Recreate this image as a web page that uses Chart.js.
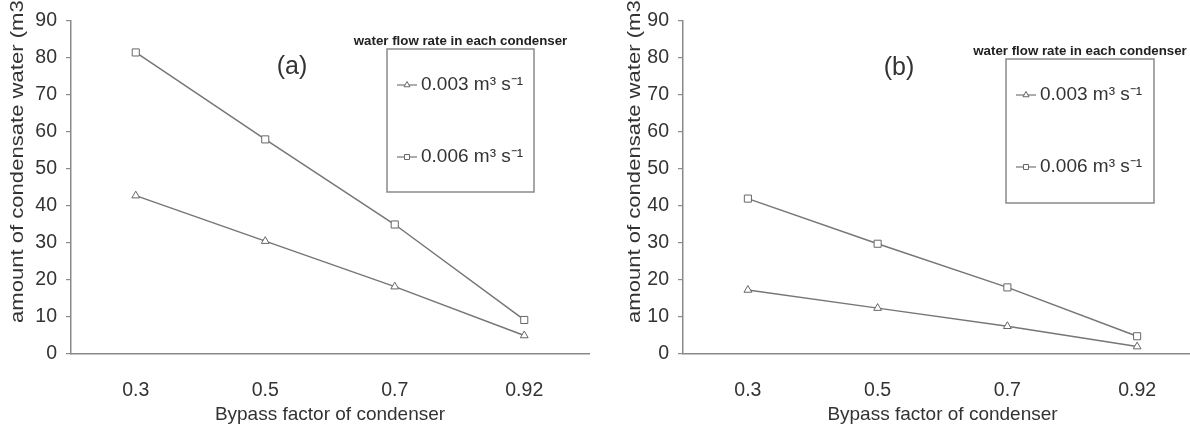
<!DOCTYPE html>
<html>
<head>
<meta charset="utf-8">
<script src="https://cdn.jsdelivr.net/npm/chart.js@4.4.0/dist/chart.umd.min.js"></script>
<style>
  html, body { margin: 0; padding: 0; background: #fff; overflow: hidden; width: 1190px; height: 429px; }
  .panel { position: absolute; top: 0; }
</style>
</head>
<body>
<canvas id="chartA" class="panel" width="595" height="429"></canvas>
<canvas id="chartB" class="panel" width="620" height="429"></canvas>
<script>
// bypass factor categories
const bypassFactors = ["0.3", "0.5", "0.7", "0.92"];
const yTicks = [0, 10, 20, 30, 40, 50, 60, 70, 80, 90];
const seriesLabels = ["0.003 m³ s⁻¹", "0.006 m³ s⁻¹"];

// panel (a)
const condensateA_003 = [42.8, 30.5, 18.2, 5.0];
const condensateA_006 = [81.5, 58.0, 35.0, 9.2];
// panel (b)
const condensateB_003 = [17.3, 12.4, 7.5, 2.0];
const condensateB_006 = [42.0, 29.8, 18.0, 4.8];

const legendTitle = "water flow rate in each condenser";
const yTitle = "amount of condensate water (m3)";
const xTitle = "Bypass factor of condenser";

const axisColor = "#8a8a8a";
const lineColor = "#767676";
const textColor = "#333";
const fontFamily = "'Liberation Sans', Arial, sans-serif";

document.getElementById("chartA").style.left = "0px";
document.getElementById("chartB").style.left = "595px";

// titles, panel letter and framed legend drawn on top of the chart
const decorPlugin = {
  id: "decor",
  afterDraw(chart, args, opts) {
    const ctx = chart.ctx;
    const area = chart.chartArea;
    ctx.save();
    ctx.fillStyle = textColor;

    // panel letter
    ctx.font = "25px " + fontFamily;
    ctx.textAlign = "center";
    ctx.textBaseline = "middle";
    ctx.fillText(opts.letter, opts.letterX, opts.letterY);

    // x title
    ctx.font = "19px " + fontFamily;
    ctx.fillText(xTitle, (area.left + area.right) / 2, 415);

    // y title (stretched a little, like the original)
    ctx.save();
    ctx.translate(opts.yTitleX, 323);
    ctx.rotate(-Math.PI / 2);
    ctx.font = "19px " + fontFamily;
    const w = ctx.measureText(yTitle).width;
    ctx.scale(330 / w, 1);
    ctx.textAlign = "left";
    ctx.fillText(yTitle, 0, 0);
    ctx.restore();

    // legend
    const box = opts.legendBox;
    ctx.font = "bold 13.3px " + fontFamily;
    ctx.textAlign = "center";
    ctx.fillStyle = "#222";
    ctx.fillText(legendTitle, box.x + box.w / 2, box.y - 8);
    ctx.strokeStyle = axisColor;
    ctx.lineWidth = 1.5;
    ctx.strokeRect(box.x, box.y, box.w, box.h);

    chart.data.datasets.forEach((ds, i) => {
      const y = box.y + opts.itemY[i];
      const mx = box.x + 20;
      ctx.strokeStyle = lineColor;
      ctx.lineWidth = 1.2;
      ctx.beginPath();
      ctx.moveTo(mx - 10, y);
      ctx.lineTo(mx + 10, y);
      ctx.stroke();
      ctx.fillStyle = "#fff";
      ctx.strokeStyle = "#666";
      ctx.lineWidth = 1;
      Chart.helpers.drawPoint(ctx, { pointStyle: ds.pointStyle, radius: 3.5, rotation: 0, borderWidth: 1 }, mx, y);
      ctx.fillStyle = textColor;
      ctx.font = "19px " + fontFamily;
      ctx.textAlign = "left";
      ctx.textBaseline = "middle";
      ctx.fillText(ds.label, box.x + 34, y);
    });
    ctx.restore();
  },
};

function makeDataset(label, data, style, radius) {
  return {
    label: label,
    data: data,
    borderColor: lineColor,
    borderWidth: 1.5,
    pointStyle: style,
    pointRadius: radius,
    pointBackgroundColor: "#fff",
    pointBorderColor: "#666",
    pointBorderWidth: 1,
    tension: 0,
    fill: false,
  };
}

function makeChart(canvasId, data003, data006, layout, decor) {
  return new Chart(document.getElementById(canvasId), {
    type: "line",
    data: {
      labels: bypassFactors,
      datasets: [
        makeDataset(seriesLabels[0], data003, "triangle", 4.5),
        makeDataset(seriesLabels[1], data006, "rect", 5),
      ],
    },
    options: {
      responsive: false,
      animation: false,
      devicePixelRatio: 1,
      layout: { padding: layout.padding },
      scales: {
        x: {
          type: "category",
          offset: true,
          grid: { display: false },
          border: { display: true, color: axisColor, width: 1.5 },
          ticks: {
            color: textColor,
            padding: 17,
            font: { family: fontFamily, size: 19.5 },
          },
          afterFit: (scale) => { scale.height = 75; },
        },
        y: {
          min: yTicks[0],
          max: yTicks[yTicks.length - 1],
          afterBuildTicks: (scale) => { scale.ticks = yTicks.map((v) => ({ value: v })); },
          grid: { drawOnChartArea: false, drawTicks: true, tickLength: 5, color: axisColor, lineWidth: 1.2 },
          border: { display: true, color: axisColor, width: 1.5 },
          ticks: {
            color: textColor,
            padding: 9,
            font: { family: fontFamily, size: 19.5 },
          },
          afterFit: (scale) => { scale.width = layout.yWidth; },
        },
      },
      plugins: {
        legend: { display: false },
        tooltip: { enabled: false },
        decor: decor,
      },
    },
    plugins: [decorPlugin],
  });
}

makeChart("chartA", condensateA_003, condensateA_006,
  { padding: { top: 21, right: 3, left: 0, bottom: 0 }, yWidth: 71 },
  { letter: "(a)", letterX: 292, letterY: 67, yTitleX: 18,
    legendBox: { x: 387, y: 49, w: 147, h: 143 }, itemY: [36, 108] });

makeChart("chartB", condensateB_003, condensateB_006,
  { padding: { top: 21, right: 13, left: 0, bottom: 0 }, yWidth: 88 },
  { letter: "(b)", letterX: 304, letterY: 68, yTitleX: 40,
    legendBox: { x: 411, y: 59, w: 148, h: 144 }, itemY: [36, 108] });
</script>
</body>
</html>
